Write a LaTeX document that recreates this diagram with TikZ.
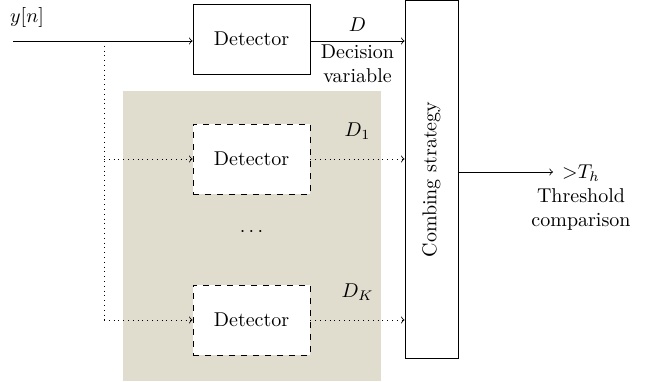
\documentclass[tikz,border=0pt]{standalone}
\usetikzlibrary{positioning}
\definecolor{bgshade}{RGB}{224,221,207}
\tikzset{
    detbox/.style={draw,minimum width=58.5pt,minimum height=35pt,inner sep=0pt},
    dashbox/.style={detbox,dashed,fill=white},
    dotline/.style={dotted}
}
\begin{document}
\begin{tikzpicture}[x=0.5pt,y=-0.5pt,>=to]
    \useasboundingbox(0,0) rectangle (646,381);
    \fill[bgshade](123,91) rectangle (381,381);
    \node[detbox](det) at (251.5,39){Detector};
    \node[dashbox](det1) at (251.5,159){Detector};
    \node[dashbox](detK) at (251.5,320){Detector};
    \node[draw,minimum width=179pt,minimum height=26.5pt,inner sep=0pt,rotate=90](comb) at (431.5,179.5){Combing strategy};
    \node(dots) at (251.5,232){$\cdots$};
    \coordinate(in) at (13,41);
    \coordinate(split) at (104,41);
    \coordinate(splitK) at (104,320);
    \coordinate(out) at (553,172);
    \node(yn) at (27,17){$y[n]$};
    \draw[->](in)--(det.west|-in);
    \draw[->](det.east|-in)--(comb.north|-in)node[pos=.5,above=1pt]{$D$}node[pos=.5,below,align=center,inner sep=1.5pt]{Decision\\variable};
    \draw[dotline](split)--(splitK);
    \draw[dotline,->](split|-det1)--(det1.west);
    \draw[dotline,->](splitK)--(detK.west);
    \draw[dotline,->](det1.east)--(comb.north|-det1)node[pos=.5,above=6pt]{$D_1$};
    \draw[dotline,->](detK.east)--(comb.north|-detK)node[pos=.5,above=6pt]{$D_K$};
    \draw[->](comb.south|-out)--(out);
    \node[align=center,anchor=north,inner sep=0pt](thr) at (581,164){${>}T_h$\\Threshold\\comparison};
\end{tikzpicture}
\end{document}
